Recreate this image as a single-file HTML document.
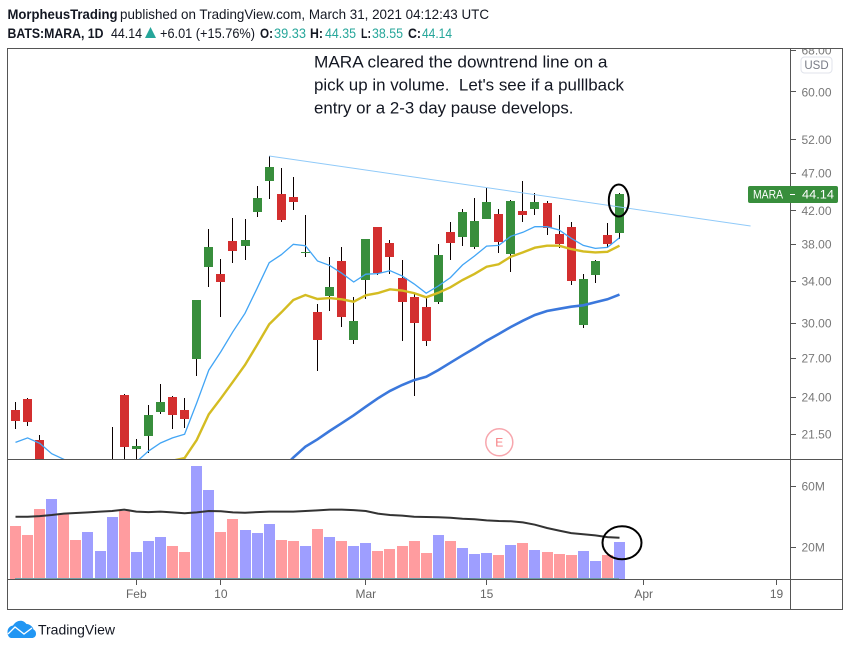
<!DOCTYPE html>
<html lang="en">
<head>
<meta charset="utf-8">
<title>MARA daily chart</title>
<style>
html,body{margin:0;padding:0;background:#fff;width:850px;height:650px;overflow:hidden}
svg{display:block;font-family:"Liberation Sans",sans-serif}
text{white-space:pre}
</style>
</head>
<body>
<svg id="chart" xmlns="http://www.w3.org/2000/svg" width="850" height="650" viewBox="0 0 850 650">
  <defs>
    <clipPath id="price-clip"><rect x="8" y="49" width="782" height="410"/></clipPath>
    <clipPath id="axis-clip"><rect x="790" y="49" width="52" height="410"/></clipPath>
  </defs>
  <rect x="0" y="0" width="850" height="650" fill="#ffffff"/>

  <g font-size="14" fill="#131722">
    <text x="7.5" y="19" font-weight="bold" textLength="110" lengthAdjust="spacingAndGlyphs">MorpheusTrading</text>
    <text x="120" y="19" textLength="369" lengthAdjust="spacingAndGlyphs">published on TradingView.com, March 31, 2021 04:12:43 UTC</text>
    <text x="7.5" y="38" font-weight="bold" textLength="96" lengthAdjust="spacingAndGlyphs">BATS:MARA, 1D</text>
    <text x="111" y="38" textLength="31" lengthAdjust="spacingAndGlyphs">44.14</text>
    <polygon points="145,38 156,38 150.5,27" fill="#26a69a"/>
    <text x="160" y="38" textLength="95" lengthAdjust="spacingAndGlyphs">+6.01 (+15.76%)</text>
    <text x="260" y="38" font-weight="bold" textLength="13" lengthAdjust="spacingAndGlyphs">O:</text>
    <text x="274" y="38" fill="#26a69a" textLength="32" lengthAdjust="spacingAndGlyphs">39.33</text>
    <text x="310" y="38" font-weight="bold" textLength="13" lengthAdjust="spacingAndGlyphs">H:</text>
    <text x="325" y="38" fill="#26a69a" textLength="31" lengthAdjust="spacingAndGlyphs">44.35</text>
    <text x="361" y="38" font-weight="bold" textLength="10" lengthAdjust="spacingAndGlyphs">L:</text>
    <text x="372" y="38" fill="#26a69a" textLength="31" lengthAdjust="spacingAndGlyphs">38.55</text>
    <text x="408" y="38" font-weight="bold" textLength="13" lengthAdjust="spacingAndGlyphs">C:</text>
    <text x="422" y="38" fill="#26a69a" textLength="30" lengthAdjust="spacingAndGlyphs">44.14</text>
  </g>

  <g id="candles" clip-path="url(#price-clip)" shape-rendering="crispEdges"></g>
  <g id="price-lines" clip-path="url(#price-clip)"></g>
  <g id="volume-bars" shape-rendering="crispEdges"></g>
  <g id="volume-line"></g>

  <g font-size="17" fill="#131722">
    <text x="314" y="67.5" textLength="293.5" lengthAdjust="spacingAndGlyphs">MARA cleared the downtrend line on a</text>
    <text x="314" y="90.5" textLength="310" lengthAdjust="spacingAndGlyphs">pick up in volume.  Let's see if a pulllback</text>
    <text x="314" y="113.5" textLength="259.5" lengthAdjust="spacingAndGlyphs">entry or a 2-3 day pause develops.</text>
  </g>

  <g>
    <circle cx="499.3" cy="442.3" r="13.5" fill="#ffffff" stroke="#f7a6ad" stroke-width="1.5"/>
    <text x="499.3" y="446.7" font-size="12" text-anchor="middle" fill="#f77c80">E</text>
  </g>

  <ellipse cx="618.8" cy="200.5" rx="10" ry="16" fill="none" stroke="#000000" stroke-width="2"/>
  <ellipse cx="622" cy="542.8" rx="19.5" ry="16.5" fill="none" stroke="#000000" stroke-width="2"/>

  <g shape-rendering="crispEdges" stroke="#555555" stroke-width="1" fill="none">
    <rect x="7.5" y="48.5" width="835" height="561"/>
    <line x1="790.5" y1="48.5" x2="790.5" y2="609.5"/>
    <line x1="7.5" y1="459.5" x2="842.5" y2="459.5"/>
    <line x1="7.5" y1="579.5" x2="842.5" y2="579.5"/>
  </g>

  <g id="price-axis" clip-path="url(#axis-clip)"></g>
  <g id="volume-axis"></g>
  <g id="time-axis"></g>

  <g>
    <rect x="801" y="57" width="31" height="16" rx="3.5" fill="#ffffff" stroke="#e0e3eb" stroke-width="1"/>
    <text x="816.5" y="69" font-size="11.5" text-anchor="middle" fill="#787b86">USD</text>
  </g>

  <g>
    <rect x="748" y="186" width="90" height="17" rx="2" fill="#388e3c"/>
    <text x="753" y="198.5" font-size="12" fill="#ffffff" textLength="30" lengthAdjust="spacingAndGlyphs">MARA</text>
    <rect x="790" y="194" width="5" height="1" fill="#ffffff"/>
    <text x="802" y="198.5" font-size="12" fill="#ffffff" textLength="32" lengthAdjust="spacingAndGlyphs">44.14</text>
  </g>

  <g>
    <path d="M7.5,632 C7.5,628 10,626 13,625.5 C15,622 18,620.7 20.5,620.7 C23,620.7 25,622 26.5,624 C30,624 33,627 33.5,629.5 C35.5,630.5 36,632 36,634 C36,636.5 34,638 32,638 L11.5,638 C9,638 7.5,635.5 7.5,632 Z" fill="#2196f3"/>
    <polyline points="8,634 15,627 24,634 32,628" fill="none" stroke="#ffffff" stroke-width="1.3"/>
    <text x="38" y="634.5" font-size="14" fill="#131722" textLength="77" lengthAdjust="spacingAndGlyphs">TradingView</text>
  </g>
</svg>

<script>
// ---- Chart data ----
const opens = [23.11,23.88,21.12,17.6,18.4,17.9,17.2,17.5,18.4,24.17,20.56,21.37,22.97,24.03,23.11,26.93,35.48,34.76,38.37,37.79,41.86,45.93,44.18,43.78,37.01,31.00,32.52,36.13,28.51,34.13,40.01,38.13,34.34,32.43,31.48,31.95,39.41,38.83,37.67,40.98,41.60,36.90,41.98,42.24,43.00,39.18,40.01,29.82,34.65,39.07,39.33];
const highs = [23.67,23.93,21.44,18.6,18.7,18.3,18.2,18.3,21.96,24.25,21.18,23.46,24.98,24.10,23.93,32.14,39.77,36.35,41.11,40.98,45.25,49.51,47.76,46.49,41.48,31.76,36.57,37.67,32.43,38.60,40.01,38.48,36.24,32.82,32.43,38.02,40.61,42.24,43.65,44.98,42.24,43.39,45.93,44.31,43.26,41.48,40.61,34.76,36.24,40.49,44.35];
const lows = [21.83,22.03,19.00,17.3,17.4,17.0,16.9,17.2,18.0,19.50,19.60,20.32,22.80,21.83,21.89,25.61,33.42,30.54,35.92,36.24,41.23,43.52,40.61,42.11,36.57,25.97,31.10,29.64,28.18,32.24,34.65,34.76,28.42,24.10,28.00,31.76,36.24,37.79,37.45,40.98,37.00,34.96,40.61,41.48,39.07,37.56,33.62,29.55,33.82,37.56,38.55];
const closes = [22.36,22.30,19.30,18.3,17.7,17.3,17.9,18.0,19.0,20.68,20.74,22.77,23.67,22.77,22.50,32.14,37.67,33.93,37.23,38.48,43.65,47.90,40.86,43.13,37.12,28.51,33.42,30.54,30.18,38.60,34.85,36.57,31.95,30.00,28.42,36.79,38.13,41.86,40.74,43.13,38.25,43.26,41.48,43.13,39.89,38.02,34.03,34.24,36.13,38.02,44.14];
const volumes = [34.3,28.5,45.4,52,42,25.2,30.4,18,40.2,44.1,17.4,24.6,27.2,21.3,17.4,73.5,57.8,30.4,38.9,31.7,29.8,35.7,25.2,24.6,21.3,32.4,27.2,24.6,21.3,23.3,18,19.3,21.3,24.6,16.7,28.5,24.6,20,16.1,16.7,15.4,22,23.3,18.7,17.4,16.1,15.4,18,11.5,15.4,23.9];
const volumeIsUp = [0,0,0,1,0,0,1,1,1,0,1,1,1,0,0,1,1,0,0,1,1,1,0,0,1,0,1,0,1,1,0,0,0,0,0,1,0,1,1,1,0,1,0,1,0,0,0,1,1,0,1];
const volumeAverage = [40,40,40.4,41.1,42,42.4,42.8,43.3,43.7,44.6,43.3,43,43.3,42.8,42.2,42.8,43.7,43.5,42.8,42.6,43,43.3,43.3,43.3,43.7,44.1,44.6,44.6,44.3,43.7,42,41.1,40.7,40,39.8,39.6,39.3,38.7,38.3,37.6,37.2,37,36.3,34.8,32.6,30.9,29.3,28.5,27.8,26.7,26.3];
const fastAverage = [20.97,21.25,20.91,20.27,19.93,19.53,19.18,19.18,19.30,19.48,19.77,20.42,20.93,21.25,21.49,23.60,26.05,27.53,29.23,30.89,33.29,35.95,36.82,37.99,37.83,36.13,35.66,34.83,33.93,34.73,34.79,35.10,34.55,33.73,32.81,33.52,34.38,35.70,36.68,37.79,37.87,38.91,39.38,40.05,40.05,39.65,38.68,37.87,37.53,37.64,38.75];
const midAverage = [null,null,null,null,null,null,null,null,null,null,null,null,null,19.85,20.01,21.12,22.81,23.93,25.15,26.45,28.09,29.88,30.97,32.14,32.63,32.24,32.33,32.21,31.98,32.60,32.82,33.19,33.07,32.82,32.40,32.85,33.39,34.13,34.76,35.52,35.78,36.60,37.08,37.60,37.83,37.83,37.45,37.19,37.08,37.15,37.83];
const slowAverage = [null,null,null,null,null,null,null,null,null,null,null,null,null,null,null,null,null,null,null,null,null,null,19.30,20.04,20.70,21.16,21.70,22.21,22.74,23.34,23.93,24.47,24.91,25.28,25.53,26.05,26.63,27.23,27.81,28.45,29.03,29.64,30.21,30.73,31.10,31.31,31.50,31.64,31.93,32.21,32.67];
const trendIndex = [21,60.85];
const trendPrice = [49.51,40.13];
const priceTicks = [68,60,52,47,42,38,34,30,27,24,21.5];
const volumeTicks = [60,20];
const timeTickLabels = ["Feb","10","Mar","15","Apr","19"];
const timeTickIndex = [10,17,29,39,52,63];

// ---- Axis functions ----
function xAt(i){ return 15.5 + 12.08 * i; }
function yPrice(p){ return 323 - 333.3 * Math.log(p / 30); }
function yVolume(m){ return 578 - 1.533 * m; }

const NS = "http://www.w3.org/2000/svg";
function make(tag, parent){
  const el = document.createElementNS(NS, tag);
  parent.appendChild(el);
  return el;
}
function rect(el, x, y, w, h, fill){
  el.setAttribute("x", x);
  el.setAttribute("y", y);
  el.setAttribute("width", w);
  el.setAttribute("height", h);
  el.setAttribute("fill", fill);
}

// ---- Candles ----
const candleGroup = document.getElementById("candles");
closes.forEach(function(close, i){
  const open = opens[i];
  const up = close >= open;
  const cx = xAt(i);
  const color = up ? "#388e3c" : "#d32f2f";
  const wick = make("rect", candleGroup);
  
  
  const wickTop = Math.round(yPrice(highs[i]));
  const wickBottom = Math.round(yPrice(lows[i]));
  rect(wick, Math.floor(cx), wickTop, 1, Math.max(1, wickBottom - wickTop), "#0a0000");
  const body = make("rect", candleGroup);
  
  
  const bodyTop = Math.round(yPrice(Math.max(open, close)));
  const bodyBottom = Math.round(yPrice(Math.min(open, close)));
  rect(body, Math.floor(cx) - 4, bodyTop, 9, Math.max(1, bodyBottom - bodyTop), color);
});

// ---- Moving averages and trend line ----
function polyPoints(values, yFn){
  const pts = [];
  values.forEach(function(v, i){
    if (v !== null) pts.push(xAt(i).toFixed(1) + "," + yFn(v).toFixed(1));
  });
  return pts.join(" ");
}
const lineGroup = document.getElementById("price-lines");

const fastLine = make("polyline", lineGroup);


fastLine.setAttribute("points", polyPoints(fastAverage, yPrice));
fastLine.setAttribute("fill", "none");
fastLine.setAttribute("stroke", "#42a5f5");
fastLine.setAttribute("stroke-width", "1.3");

const midLine = make("polyline", lineGroup);


midLine.setAttribute("points", polyPoints(midAverage, yPrice));
midLine.setAttribute("fill", "none");
midLine.setAttribute("stroke", "#d4bc22");
midLine.setAttribute("stroke-width", "2.4");

const slowLine = make("polyline", lineGroup);


slowLine.setAttribute("points", polyPoints(slowAverage, yPrice));
slowLine.setAttribute("fill", "none");
slowLine.setAttribute("stroke", "#3b78dc");
slowLine.setAttribute("stroke-width", "2.6");

const trendLine = make("line", lineGroup);


trendLine.setAttribute("x1", xAt(trendIndex[0]));
trendLine.setAttribute("y1", yPrice(trendPrice[0]));
trendLine.setAttribute("x2", xAt(trendIndex[1]));
trendLine.setAttribute("y2", yPrice(trendPrice[1]));
trendLine.setAttribute("stroke", "#90caf9");
trendLine.setAttribute("stroke-width", "1");

// ---- Volume ----
const volumeGroup = document.getElementById("volume-bars");
volumes.forEach(function(v, i){
  const bar = make("rect", volumeGroup);
  
  
  const top = Math.round(yVolume(v) + 0.7);
  rect(bar, Math.floor(xAt(i)) - 5, top, 11, 579 - top, volumeIsUp[i] ? "#9e9eff" : "#ff9c9f");
});
const baseLine = make("rect", volumeGroup);


rect(baseLine, Math.floor(xAt(0)), 578, Math.round(xAt(50) - xAt(0)), 1, "#6f9fa8");

const volumeLineGroup = document.getElementById("volume-line");
const volumeAvgLine = make("polyline", volumeLineGroup);


volumeAvgLine.setAttribute("points", polyPoints(volumeAverage, yVolume));
volumeAvgLine.setAttribute("fill", "none");
volumeAvgLine.setAttribute("stroke", "#333333");
volumeAvgLine.setAttribute("stroke-width", "2");

// ---- Axes ----
const priceAxis = document.getElementById("price-axis");
priceTicks.forEach(function(p){
  const y = yPrice(p);
  const tick = make("rect", priceAxis);
  
  
  rect(tick, 791, Math.round(y - 0.5), 5, 1, "#555555");
  const label = make("text", priceAxis);
  
  
  label.setAttribute("x", 801.5);
  label.setAttribute("y", y + 4.3);
  label.setAttribute("font-size", "12");
  label.setAttribute("fill", "#787878");
  label.textContent = p.toFixed(2);
});

const volumeAxis = document.getElementById("volume-axis");
volumeTicks.forEach(function(m){
  const y = yVolume(m);
  const tick = make("rect", volumeAxis);
  
  
  rect(tick, 791, Math.round(y - 0.5), 5, 1, "#555555");
  const label = make("text", volumeAxis);
  
  
  label.setAttribute("x", 801.5);
  label.setAttribute("y", y + 4.3);
  label.setAttribute("font-size", "12");
  label.setAttribute("fill", "#787878");
  label.textContent = m + "M";
});

const timeAxis = document.getElementById("time-axis");
timeTickLabels.forEach(function(name, k){
  const x = xAt(timeTickIndex[k]);
  const tick = make("rect", timeAxis);
  
  
  rect(tick, Math.floor(x), 580, 1, 5, "#555555");
  const label = make("text", timeAxis);
  
  
  label.setAttribute("x", x);
  label.setAttribute("y", 598);
  label.setAttribute("font-size", "12");
  label.setAttribute("text-anchor", "middle");
  label.setAttribute("fill", "#666666");
  label.textContent = name;
});
</script>
</body>
</html>
